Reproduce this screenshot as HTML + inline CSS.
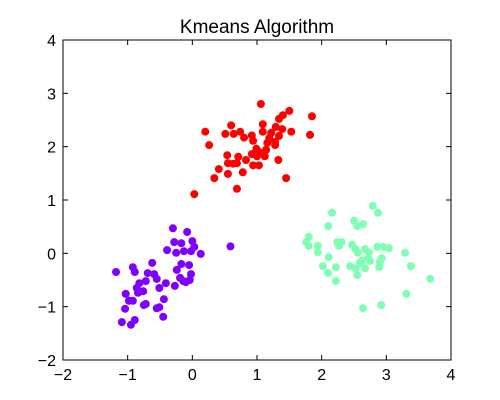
<!DOCTYPE html>
<html><head><meta charset="utf-8"><style>
html,body{margin:0;padding:0;background:#fff;}
svg{display:block;font-family:"Liberation Sans",sans-serif;}
</style></head><body>
<svg id="chart" width="500" height="400" xmlns="http://www.w3.org/2000/svg">
<rect width="500" height="400" fill="#fff"/>
<text x="257" y="33" font-size="19" text-anchor="middle">Kmeans Algorithm</text>
<g id="marks"></g>
<g id="axes"></g>
</svg>
<script>
const xTicks=[-2,-1,0,1,2,3,4];
const yTicks=[-2,-1,0,1,2,3,4];
const clusterNames=["cluster-red","cluster-purple","cluster-cyan"];
const clusterColors=["#ff0000","#8000ff","#80ffb4"];
const redX=[1.06,1.85,1.50,1.40,1.34,0.60,1.09,0.20,0.51,0.64,0.74,0.80,0.92,0.94,1.09,1.22,1.29,1.39,1.53,1.82,1.34,1.19,1.28,1.16,0.26,1.28,1.14,0.99,1.03,0.92,0.54,1.00,1.12,0.71,0.83,1.33,0.55,0.63,0.69,0.94,1.03,0.41,0.55,0.78,0.34,1.45,0.69,0.03];
const redY=[2.80,2.57,2.67,2.59,2.52,2.40,2.42,2.28,2.24,2.24,2.28,2.17,2.21,2.11,2.28,2.26,2.37,2.33,2.28,2.22,2.20,2.16,2.09,2.07,2.03,2.03,1.94,1.96,1.90,1.86,1.84,1.82,1.82,1.81,1.75,1.75,1.69,1.68,1.69,1.65,1.65,1.58,1.49,1.52,1.41,1.41,1.21,1.11];
const purpleX=[-0.30,-0.08,-0.28,-0.17,0.00,0.03,-0.02,-0.13,-0.25,-0.39,0.13,-0.62,-0.92,-0.17,-0.05,-1.18,-0.89,-0.69,-0.59,-0.24,-0.02,-0.55,-0.19,-0.10,-0.04,-0.14,-0.72,-0.41,-0.82,-0.27,-0.86,-0.51,-0.76,-1.03,-0.84,-0.98,-0.92,-0.44,-0.72,-0.75,-0.51,-0.55,-1.04,-0.45,-1.09,-0.89,-0.95,0.59];
const purpleY=[0.47,0.40,0.21,0.19,0.23,0.12,0.04,0.04,0.01,0.06,-0.01,-0.18,-0.26,-0.20,-0.22,-0.35,-0.35,-0.37,-0.39,-0.31,-0.39,-0.48,-0.46,-0.54,-0.50,-0.52,-0.52,-0.56,-0.56,-0.61,-0.65,-0.65,-0.71,-0.76,-0.74,-0.89,-0.89,-0.86,-0.95,-0.97,-1.01,-1.03,-1.04,-1.19,-1.29,-1.25,-1.34,0.13];
const cyanX=[2.79,2.87,2.16,2.50,2.64,2.55,2.10,1.80,1.76,1.80,1.94,1.94,2.24,2.31,2.27,2.47,2.52,2.67,2.73,2.56,2.86,2.95,3.04,3.29,2.11,2.72,2.93,2.62,2.75,2.90,2.59,2.44,2.02,2.22,2.53,2.67,2.89,3.38,2.10,2.55,2.22,3.68,3.31,2.92,2.64];
const cyanY=[0.89,0.76,0.76,0.61,0.55,0.51,0.51,0.31,0.21,0.14,0.14,0.02,0.21,0.21,0.14,0.16,0.08,0.08,0.02,0.01,0.12,0.12,0.10,0.01,-0.07,-0.09,-0.09,-0.14,-0.14,-0.16,-0.18,-0.24,-0.24,-0.26,-0.28,-0.28,-0.26,-0.24,-0.37,-0.41,-0.52,-0.48,-0.76,-0.97,-1.03];

const L=63,R=451,T=40,B=360,xmin=-2,xmax=4,ymin=-2,ymax=4;
function sx(v){return L+(v-xmin)/(xmax-xmin)*(R-L);}
function sy(v){return B-(v-ymin)/(ymax-ymin)*(B-T);}
const NS="http://www.w3.org/2000/svg";
const marks=document.getElementById('marks');
const series=[[redX,redY],[purpleX,purpleY],[cyanX,cyanY]];
series.forEach((s,k)=>{
  const g=document.createElementNS(NS,'g');
  
  
  s[0].forEach((x,i)=>{
    const c=document.createElementNS(NS,'circle');
    
    
    c.setAttribute('cx',sx(x));c.setAttribute('cy',sy(s[1][i]));
    c.setAttribute('r',4);c.setAttribute('fill',clusterColors[k]);
    g.appendChild(c);
  });
  marks.appendChild(g);
});
const axes=document.getElementById('axes');
function el(tag,attrs,text){const e=document.createElementNS(NS,tag);for(const a in attrs)e.setAttribute(a,attrs[a]);if(text!==undefined)e.textContent=text;axes.appendChild(e);return e;}
const frame=el('rect',{x:L,y:T,width:R-L,height:B-T,fill:'none',stroke:'#000','stroke-width':1});


function lab(v){return v<0?'\u2212'+Math.abs(v):String(v);}
xTicks.forEach(v=>{
  const x=sx(v);
  el('line',{x1:x,y1:B,x2:x,y2:B-5,stroke:'#000'});
  el('line',{x1:x,y1:T,x2:x,y2:T+5,stroke:'#000'});
  const t=el('text',{x:x,y:B+20,'font-size':16,'text-anchor':'middle'},lab(v));
  
  
});
yTicks.forEach(v=>{
  const y=sy(v);
  el('line',{x1:L,y1:y,x2:L+5,y2:y,stroke:'#000'});
  el('line',{x1:R,y1:y,x2:R-5,y2:y,stroke:'#000'});
  const t=el('text',{x:L-7,y:y+6,'font-size':16,'text-anchor':'end'},lab(v));
  
  
});
</script>
</body></html>
